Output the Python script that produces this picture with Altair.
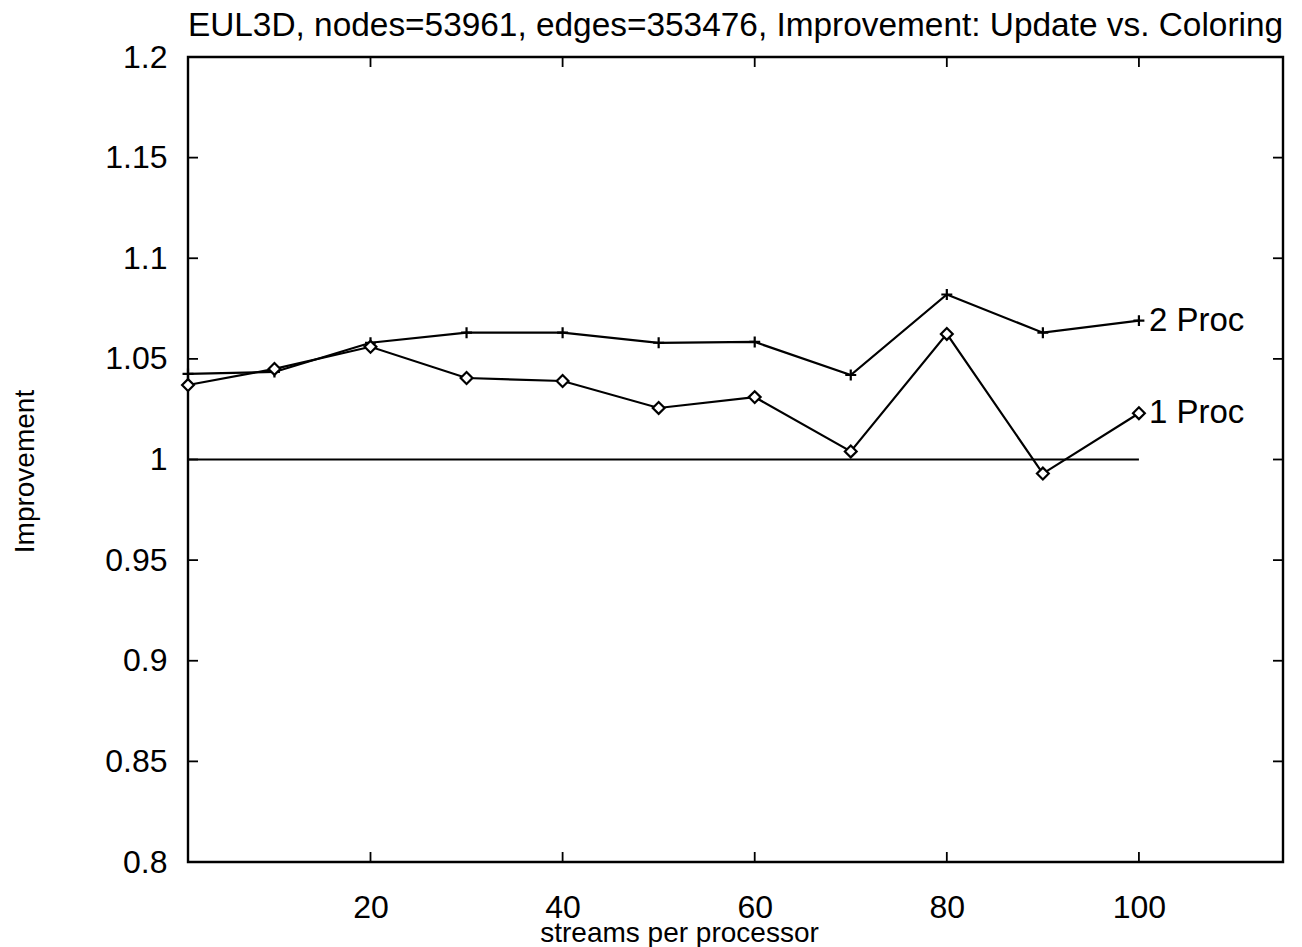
import altair as alt
import pandas as pd

# ---- data ----
streams = [1, 10, 20, 30, 40, 50, 60, 70, 80, 90, 100]
proc2 = [1.0425, 1.0435, 1.058, 1.063, 1.063, 1.058, 1.0584, 1.042, 1.082, 1.063, 1.069]
proc1 = [1.037, 1.045, 1.056, 1.0405, 1.039, 1.0256, 1.031, 1.004, 1.0624, 0.993, 1.023]
series_names = ["2 Proc", "1 Proc"]
baseline_x = [1, 100]
baseline_y = 1.0
y_ticks = [0.8, 0.85, 0.9, 0.95, 1.0, 1.05, 1.1, 1.15, 1.2]
x_ticks = [20, 40, 60, 80, 100]
x_domain = [1, 115]
y_domain = [0.8, 1.2]

TITLE = "EUL3D, nodes=53961, edges=353476, Improvement: Update vs. Coloring"
FONT = "Liberation Sans"
W, H = 1095, 805
TICK = 10
SW = 2.2

df2 = pd.DataFrame({"x": streams, "y": proc2})
df1 = pd.DataFrame({"x": streams, "y": proc1})
lab = pd.DataFrame({"x": [streams[-1], streams[-1]], "y": [proc2[-1], proc1[-1]], "t": series_names})
base = pd.DataFrame({"x": [baseline_x[0]], "x2": [baseline_x[1]], "y": [baseline_y]})
yt = pd.DataFrame({"y": y_ticks})
xt = pd.DataFrame({"x": x_ticks})

xs = alt.Scale(domain=x_domain, nice=False, zero=False)
ys = alt.Scale(domain=y_domain, nice=False, zero=False)

x_axis = alt.Axis(values=x_ticks, format="d", ticks=False, domain=False, grid=False,
                  labelFont=FONT, labelFontSize=32, labelColor="black",
                  labelPadding=55, labelBaseline="alphabetic",
                  title="streams per processor", titleFont=FONT, titleFontSize=28,
                  titleFontWeight="normal", titleColor="black",
                  titleX=491, titleY=79, titleBaseline="alphabetic", titleAlign="center")
y_axis = alt.Axis(values=y_ticks, format="~g", ticks=False, domain=False, grid=False,
                  labelFont=FONT, labelFontSize=32, labelColor="black",
                  labelPadding=21, labelBaseline="middle",
                  title="Improvement", titleFont=FONT, titleFontSize=28,
                  titleFontWeight="normal", titleColor="black",
                  titleX=-155, titleY=414, titleBaseline="alphabetic",
                  titleAlign="center", titleAngle=270)


def X(field="x:Q"):
    return alt.X(field, scale=xs, axis=x_axis)


def Y(field="y:Q"):
    return alt.Y(field, scale=ys, axis=y_axis)


line2 = alt.Chart(df2).mark_line(color="black", strokeWidth=SW).encode(x=X(), y=Y())
pts2 = alt.Chart(df2).mark_point(shape="M-1,0L1,0M0,-1L0,1", size=120, filled=False,
                                 color="black", strokeWidth=SW, opacity=1).encode(x=X(), y=Y())
line1 = alt.Chart(df1).mark_line(color="black", strokeWidth=SW).encode(x=X(), y=Y())
pts1 = alt.Chart(df1).mark_point(shape="diamond", size=140, filled=True, fill="white",
                                 stroke="black", strokeWidth=SW, opacity=1).encode(x=X(), y=Y())
baseline = alt.Chart(base).mark_rule(color="black", strokeWidth=SW).encode(
    x=X(), x2="x2:Q", y=Y())
labels = alt.Chart(lab).mark_text(align="left", baseline="middle", dx=10, fontSize=33,
                                   font=FONT, color="black").encode(x=X(), y=Y(), text="t:N")

ytick_l = alt.Chart(yt).mark_rule(color="black", strokeWidth=1.8).encode(
    y=Y(), x=alt.value(0), x2=alt.value(TICK))
ytick_r = alt.Chart(yt).mark_rule(color="black", strokeWidth=1.8).encode(
    y=Y(), x=alt.value(W - TICK), x2=alt.value(W))
xtick_b = alt.Chart(xt).mark_rule(color="black", strokeWidth=1.8).encode(
    x=X(), y=alt.value(H), y2=alt.value(H - TICK))
xtick_t = alt.Chart(xt).mark_rule(color="black", strokeWidth=1.8).encode(
    x=X(), y=alt.value(0), y2=alt.value(TICK))

chart = alt.layer(
    line2, ytick_l, ytick_r, xtick_b, xtick_t, baseline, line1, pts2, pts1, labels
).properties(
    width=W, height=H,
    title=alt.TitleParams(TITLE, font=FONT, fontSize=33.4, fontWeight="normal", color="black",
                          anchor="middle", frame="group", baseline="alphabetic", offset=-28),
    autosize=alt.AutoSizeParams(type="none"),
    padding={"left": 188, "top": 57, "right": 19, "bottom": 85},
    background="white",
).configure_view(stroke="black", strokeWidth=2.4)

chart.save("out.html", embed_options={"renderer": "svg", "actions": False})
